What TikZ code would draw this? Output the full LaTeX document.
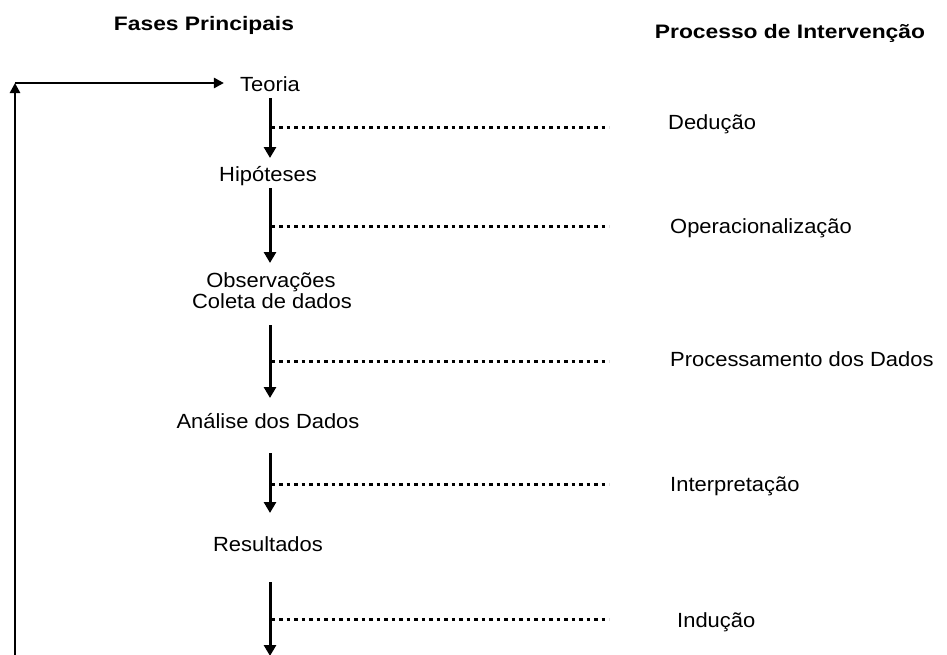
\documentclass[tikz,border=0pt]{standalone}
\usepackage{fontspec}
\usetikzlibrary{arrows.meta}
\newfontfamily\labelfont{Liberation Sans}[FakeStretch=1.07]
\newfontfamily\headfont{Liberation Sans}[FakeStretch=1.17]

\tikzset{
  phase/.style={font=\labelfont\fontsize{20.5}{24}\selectfont, inner sep=0pt, anchor=base},
  step label/.style={font=\labelfont\fontsize{20.5}{24}\selectfont, inner sep=0pt, anchor=base west},
  heading/.style={font=\headfont\bfseries\fontsize{19.5}{23}\selectfont, inner sep=0pt, anchor=base},
  flow/.style={line width=3pt, -{Triangle[width=12pt,length=11pt]}},
  loop/.style={line width=2.5pt, -{Triangle[width=10pt,length=10pt]}},
  link/.style={line width=3pt, dash pattern=on 3.5pt off 4pt},
}

\begin{document}
\begin{tikzpicture}[x=1pt, y=-1pt]
  \useasboundingbox (0,0) rectangle (947,654);

  % column headings
  \node[heading] (hfases) at (204,30) {Fases Principais};
  \node[heading] (hproc)  at (790,38) {Processo de Intervenção};

  % main phases
  \node[phase] (teoria) at (270,91)  {Teoria};
  \node[phase] (hip)    at (268,181) {Hipóteses};
  \node[phase] (obs)    at (271,287) {Observações};
  \node[phase] (coleta) at (272,308) {Coleta de dados};
  \node[phase] (anal)   at (268,428) {Análise dos Dados};
  \node[phase] (res)    at (268,551) {Resultados};

  % intervention steps
  \node[step label] (ded)  at (668,129) {Dedução};
  \node[step label] (oper) at (670,233) {Operacionalização};
  \node[step label] (proc) at (670,366) {Processamento dos Dados};
  \node[step label] (interp) at (670,491) {Interpretação};
  \node[step label] (ind)  at (677,627) {Indução};

  % points on the central spine
  \coordinate (s1a) at (270,98);  \coordinate (s1b) at (270,158);
  \coordinate (s2a) at (270,188); \coordinate (s2b) at (270,263);
  \coordinate (s3a) at (270,325); \coordinate (s3b) at (270,398);
  \coordinate (s4a) at (270,453); \coordinate (s4b) at (270,513);
  \coordinate (s5a) at (270,582); \coordinate (s5b) at (270,656);

  % branch points and ends of the dotted links
  \coordinate (b1) at (271.5,127); \coordinate (e1) at (609,127);
  \coordinate (b2) at (271.5,226); \coordinate (e2) at (609,226);
  \coordinate (b3) at (271.5,361); \coordinate (e3) at (609,361);
  \coordinate (b4) at (271.5,484); \coordinate (e4) at (609,484);
  \coordinate (b5) at (271.5,619); \coordinate (e5) at (609,619);

  % feedback loop
  \coordinate (loopbot) at (15,660);
  \coordinate (corner)  at (15,83);

  \draw[flow] (s1a) -- (s1b);
  \draw[flow] (s2a) -- (s2b);
  \draw[flow] (s3a) -- (s3b);
  \draw[flow] (s4a) -- (s4b);
  \draw[flow] (s5a) -- (s5b);

  \draw[link] (b1) -- (e1);
  \draw[link] (b2) -- (e2);
  \draw[link] (b3) -- (e3);
  \draw[link] (b4) -- (e4);
  \draw[link] (b5) -- (e5);

  \draw[loop] (loopbot) -- (corner);
  \draw[loop, shorten >=16pt] (corner) -- (corner -| teoria.west);
\end{tikzpicture}
\end{document}
